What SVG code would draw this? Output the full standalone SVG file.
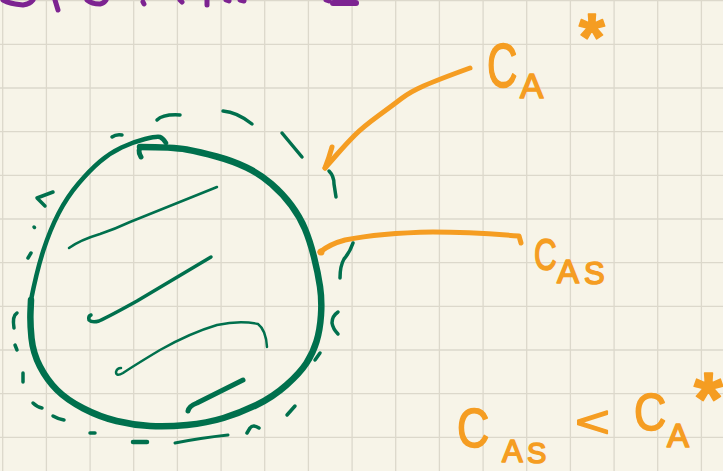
<svg xmlns="http://www.w3.org/2000/svg" width="723" height="471" viewBox="0 0 723 471">
  <defs>
    <style>
      .paper { fill: #f7f4e8; }
      .grid { fill: none; stroke: #dcd8cb; stroke-width: 1.3; }
      .ink { fill: none; stroke-linecap: round; stroke-linejoin: round; }
      .green { stroke: #00704d; }
      .orange { stroke: #f59d22; }
      .purple { stroke: #7d2391; }
      .lbl { fill: #f59d22; stroke: #f59d22; stroke-width: 1.6; stroke-linejoin: round; font-family: "Liberation Sans", Arial, sans-serif; }
    </style>
  </defs>

  <!-- notebook paper -->
  <rect class="paper" x="0" y="0" width="723" height="471"/>
  <path class="grid" d="
    M2.7,0 V471 M46.4,0 V471 M90.1,0 V471 M133.7,0 V471 M177.4,0 V471 M221.1,0 V471
    M264.7,0 V471 M308.4,0 V471 M352.1,0 V471 M395.7,0 V471 M439.4,0 V471 M483.1,0 V471
    M526.7,0 V471 M570.4,0 V471 M614.1,0 V471 M657.7,0 V471 M701.4,0 V471
    M0,0.6 H723 M0,44.3 H723 M0,88 H723 M0,131.6 H723 M0,175.3 H723 M0,219 H723
    M0,262.6 H723 M0,306.3 H723 M0,350 H723 M0,393.6 H723 M0,437.3 H723"/>

  <!-- heading cut off at the top edge -->
  <g id="heading" class="ink purple" stroke-width="5">
    <path d="M3,0 Q10,4 23,5 Q30,4 33,0"/>
    <path d="M55,0 L58,10"/>
    <path d="M87,0 Q92,4 100,4 Q104,3 106,0"/>
    <path d="M143,2 L144,4"/>
    <path d="M180,0 L182,2"/>
    <path d="M207,0 L207,5"/>
    <path d="M226,0 L229,1"/>
    <path d="M240,0 L244,1"/>
    <path d="M326,0 L329,1"/>
    <path d="M333,3 L356,3" stroke-width="6"/>
  </g>

  <!-- solid particle -->
  <g id="particle" class="ink green">
    <path stroke-width="6.5" d="M140,147 Q173,147 186.5,149.5 Q200,152 216.5,156.5 Q233,161 246.5,167.5 Q260,174 271.5,184 Q283,194 291.5,205.5 Q300,217 305,229 Q310,241 314,257 Q318,273 320,286.5 Q322,300 321,315 Q320,330 316.5,341.5 Q313,353 306.5,363 Q300,373 286.5,385 Q273,397 256.5,405 Q240,413 223.5,418 Q207,423 187,425 Q167,427 150,426 Q133,425 116.5,421 Q100,417 83.5,408.5 Q67,400 57,390 Q47,380 40,366.5 Q33,353 31.5,338 Q30,323 30.5,311.5 L31,300"/>
    <path stroke-width="4.5" d="M31,300 Q37,270 43.5,250 Q50,230 58.5,213.5 Q67,197 78.5,183.5 Q90,170 100,161.5 Q110,153 121.5,147.5 Q133,142 145,139 Q157,136 160,137 Q163,138 166,143"/>
    <path stroke-width="5" d="M141,157 Q137,150 141,147"/>
    <!-- hatching -->
    <path stroke-width="2.5" d="M69,248 Q80,240 100,234 Q115,229 130,222 L217,187"/>
    <path stroke-width="3.5" d="M211,257 L137,301 Q110,316 99,321 Q92,323 89,320 Q88,316 91,315"/>
    <path stroke-width="2.5" d="M267,347 Q266,330 258,324 Q240,320 217,325 Q190,333 160,350 Q135,365 123,373 Q116,377 116,372 Q117,368 121,368"/>
    <path stroke-width="5" d="M243,380 L197,403 Q189,406 188,411"/>
  </g>

  <!-- boundary film (dashed outline) -->
  <g id="film" class="ink green" stroke-width="3.5">
    <path d="M112,137 Q116,134 122,135"/>
    <path d="M157,120 Q163,114 180,115"/>
    <path d="M223,111 Q237,112 252,124"/>
    <path d="M282,133 L302,157"/>
    <path d="M329,171 Q334,176 334,184 L336,197"/>
    <path d="M353,243 Q350,252 344,259 Q340,266 340,278"/>
    <path d="M338,312 Q332,316 332,323 Q333,329 338,334"/>
    <path d="M320,353 L315,360"/>
    <path d="M295,406 L287,415"/>
    <path d="M259,428 Q253,424 250,428 L247,433"/>
    <path d="M175,443 Q200,438 228,435" stroke-width="3"/>
    <path d="M133,442 L147,442" stroke-width="4.5"/>
    <path d="M90,433 L95,433"/>
    <path d="M53,416 Q58,419 64,420"/>
    <path d="M33,403 Q37,407 42,408"/>
    <path d="M23,373 L23,382"/>
    <path d="M15,345 L17,350"/>
    <path d="M17,313 Q12,316 14,328"/>
    <path d="M31,253 L28,258"/>
    <path d="M34,227 L34.5,227.5"/>
    <path d="M53,192 L37,198 L45,206"/>
  </g>

  <!-- leader lines -->
  <g id="connectors" class="ink orange" stroke-width="5">
    <path d="M470,68 Q437,80 423.5,86 Q410,92 401.5,98.5 Q393,105 378,116 Q363,127 355,135 Q347,143 336,155.5 L325,168"/>
    <path d="M332,147 Q329,158 325,168"/>
    <path d="M521,243 L519,236 Q470,232 433,232 Q380,233 345,240 Q330,244 320,252"/>
    <circle cx="321" cy="252" r="3.5" fill="#f59d22" stroke="none"/>
  </g>

  <!-- bulk concentration label -->
  <g id="label-ca-star">
    <text class="lbl" font-size="62" transform="translate(487,87) scale(0.68,1)">C</text>
    <text class="lbl" font-size="35" x="520" y="98">A</text>
    <text class="lbl" font-size="66" font-weight="bold" x="579" y="60">*</text>
  </g>

  <!-- surface concentration label -->
  <g id="label-cas">
    <text class="lbl" font-size="45" transform="translate(534,270) scale(0.7,1)">C</text>
    <text class="lbl" font-size="33" x="557" y="283">A</text>
    <text class="lbl" font-size="31" x="584" y="284">S</text>
  </g>

  <!-- relation -->
  <g id="relation">
    <text class="lbl" font-size="56" transform="translate(457,447) scale(0.8,1)">C</text>
    <text class="lbl" font-size="31" x="502" y="462">A</text>
    <text class="lbl" font-size="29" x="527" y="463">S</text>
    <text class="lbl" font-size="50" transform="translate(575,437) scale(1.2,0.9)">&lt;</text>
    <text class="lbl" font-size="52" transform="translate(634,430) scale(0.86,1)">C</text>
    <text class="lbl" font-size="33" x="667" y="447">A</text>
    <text class="lbl" font-size="74" font-weight="bold" x="694" y="424">*</text>
  </g>
</svg>
